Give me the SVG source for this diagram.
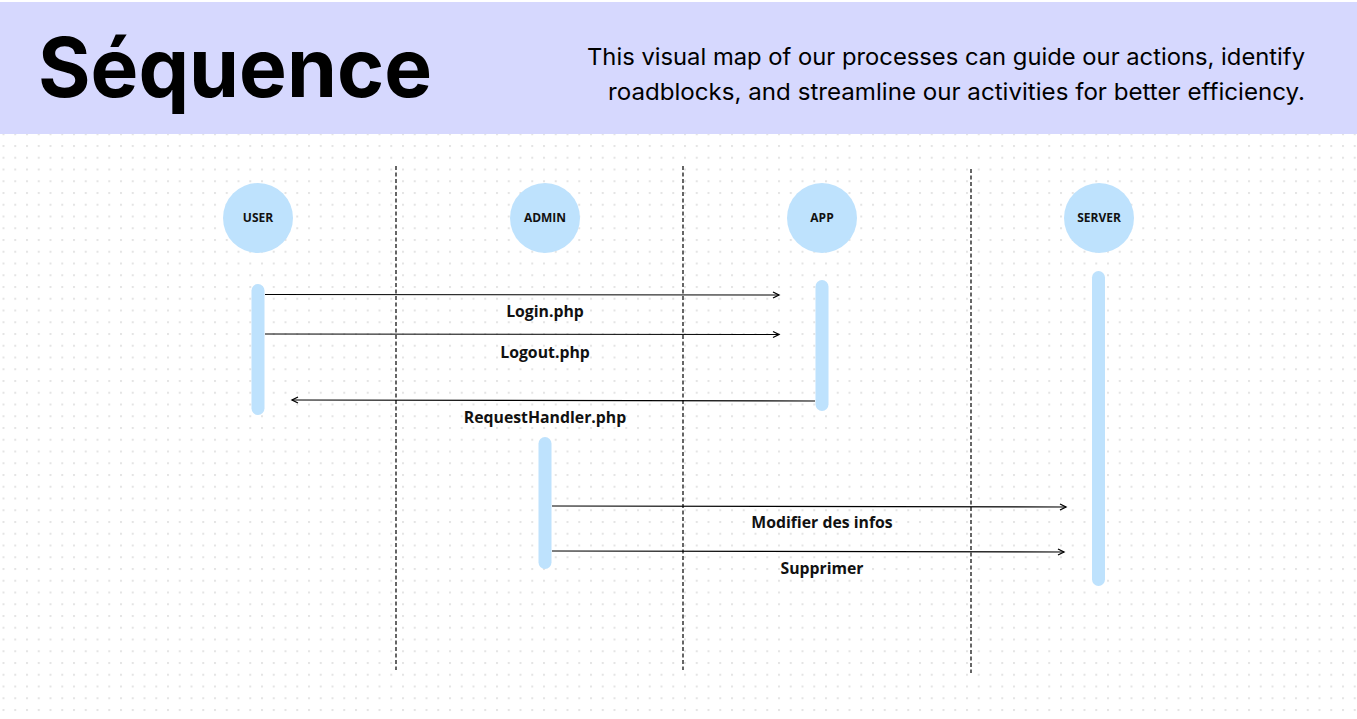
<svg xmlns="http://www.w3.org/2000/svg" width="1357" height="719" viewBox="0 0 1357 719">
<defs>
<pattern id="dots" x="2.5" y="145" width="11.75" height="11.75" patternUnits="userSpaceOnUse">
<rect x="0" y="0" width="2" height="2" fill="#e4e4e4"/>
</pattern>
<marker id="arr" markerWidth="10" markerHeight="10" refX="7" refY="4" orient="auto" markerUnits="userSpaceOnUse">
<path d="M1,1 L7,4 L1,7" fill="none" stroke="#000" stroke-width="1.3"/>
</marker>
<style>
.life{stroke:#000;stroke-width:1.2;stroke-dasharray:4 2.5;fill:none}
.circ{fill:#bee2fd}
.bar{fill:#bee2fd}
.nl{font-family:"Open Sans","Noto Sans",sans-serif;font-weight:700;font-size:12px;fill:#111;text-anchor:middle}
.ml{font-family:"Open Sans","Noto Sans",sans-serif;font-weight:700;font-size:15.8px;fill:#111;text-anchor:middle}
.msg{stroke:#000;stroke-width:1.2;fill:none;marker-end:url(#arr)}
</style>
</defs>
<rect x="0" y="0" width="1357" height="719" fill="#ffffff"/>
<rect x="0" y="134" width="1357" height="585" fill="url(#dots)"/>
<rect x="0" y="2" width="1357" height="132" fill="#d6d8fe"/>
<text x="38" y="97" font-family="Inter,'Noto Sans',sans-serif" font-weight="700" font-size="82" fill="#000" textLength="394" lengthAdjust="spacingAndGlyphs">Séquence</text>
<g font-family="Inter,'Noto Sans',sans-serif" font-size="23" fill="#000" text-anchor="end">
<text x="1305" y="65" textLength="718" lengthAdjust="spacingAndGlyphs">This visual map of our processes can guide our actions, identify</text>
<text x="1305" y="100" textLength="697" lengthAdjust="spacingAndGlyphs">roadblocks, and streamline our activities for better efficiency.</text>
</g>
<g id="lifelines">
<line class="life" x1="396" y1="166" x2="396" y2="670"/>
<line class="life" x1="683" y1="166" x2="683" y2="670"/>
<line class="life" x1="971" y1="169" x2="971" y2="673"/>
</g>
<g id="user">
<circle class="circ" cx="258" cy="218" r="35"/>
<text class="nl" x="258" y="222">USER</text>
<rect class="bar" x="251.5" y="284" width="13" height="131" rx="6.5"/>
</g>
<g id="admin">
<circle class="circ" cx="545" cy="218" r="35"/>
<text class="nl" x="545" y="222">ADMIN</text>
<rect class="bar" x="538.5" y="437" width="13" height="132" rx="6.5"/>
</g>
<g id="app">
<circle class="circ" cx="822" cy="218" r="35"/>
<text class="nl" x="822" y="222">APP</text>
<rect class="bar" x="815.5" y="280" width="13" height="131" rx="6.5"/>
</g>
<g id="server">
<circle class="circ" cx="1099" cy="218" r="35"/>
<text class="nl" x="1099" y="222">SERVER</text>
<rect class="bar" x="1092" y="271" width="13" height="315" rx="6.5"/>
</g>
<g id="connectors">
<line class="msg" x1="265" y1="294.5" x2="779" y2="295"/>
<line class="msg" x1="265" y1="334" x2="779" y2="334.5"/>
<line class="msg" x1="815" y1="401" x2="292" y2="400"/>
<line class="msg" x1="552" y1="506" x2="1066" y2="507"/>
<line class="msg" x1="552" y1="551" x2="1064" y2="552"/>
</g>
<g id="labels">
<text class="ml" x="545" y="317">Login.php</text>
<text class="ml" x="545" y="358">Logout.php</text>
<text class="ml" x="545" y="423">RequestHandler.php</text>
<text class="ml" x="822" y="528">Modifier des infos</text>
<text class="ml" x="822" y="574">Supprimer</text>
</g>
</svg>
